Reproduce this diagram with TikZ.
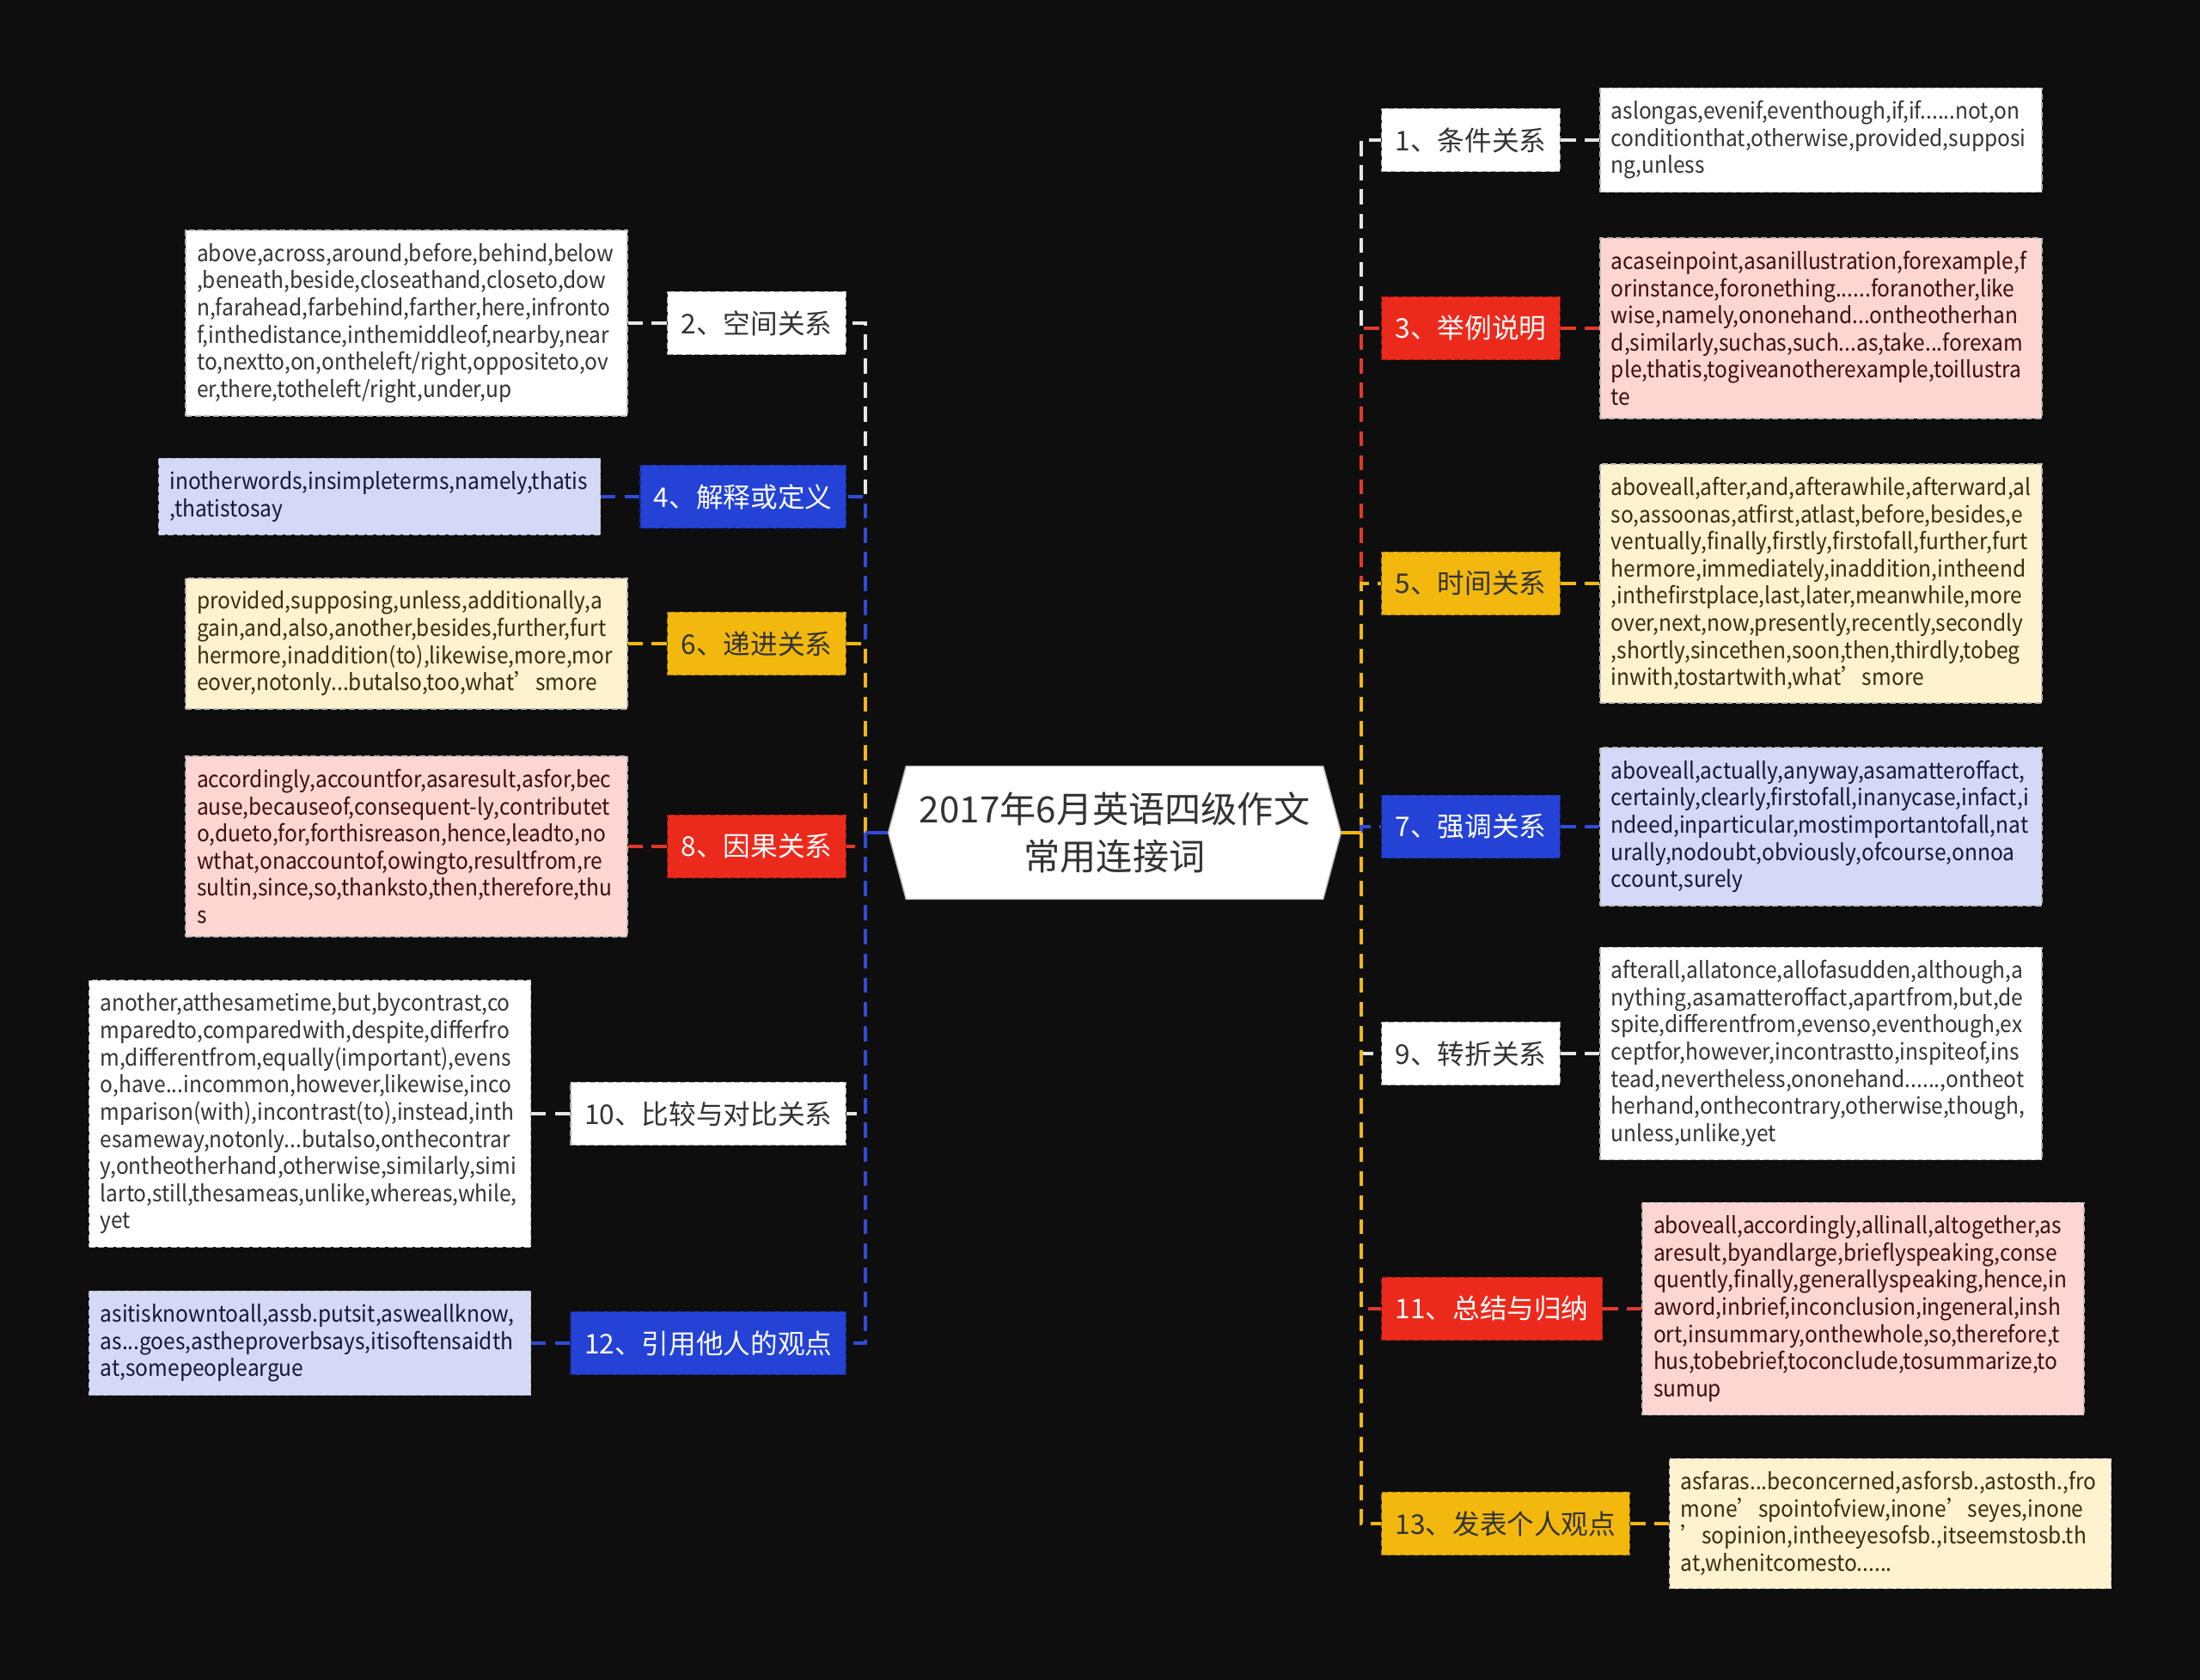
\documentclass[tikz,border=0pt]{standalone}
\usepackage{fontspec}
\setmainfont{Noto Sans CJK SC}
\newfontfamily\leaffont[FakeStretch=0.93]{Noto Sans CJK SC}
\usetikzlibrary{positioning,shapes.symbols}

\definecolor{bgdark}{HTML}{0E0E0E}
\definecolor{txtdark}{HTML}{333333}
% label fills
\definecolor{hwhite}{HTML}{FFFFFF}
\definecolor{hred}{HTML}{EC2A1C}
\definecolor{hyellow}{HTML}{F2B80E}
\definecolor{hblue}{HTML}{2442D6}
% leaf fills
\definecolor{lwhite}{HTML}{FFFFFF}
\definecolor{lred}{HTML}{FDD6D1}
\definecolor{lyellow}{HTML}{FEF2CF}
\definecolor{lblue}{HTML}{D4D9F8}
% leaf texts
\definecolor{twhite}{HTML}{333333}
\definecolor{tred}{HTML}{3D0C0C}
\definecolor{tyellow}{HTML}{3A2C0A}
\definecolor{tblue}{HTML}{14163A}
% connectors
\definecolor{cwhite}{HTML}{E6E6E6}
\definecolor{cred}{HTML}{E0392B}
\definecolor{cyellow}{HTML}{F2B80E}
\definecolor{cblue}{HTML}{2F4BD8}

\tikzset{
	topic/.style={signal, signal to=west and east, signal pointer angle=150,
		fill=white, draw=gray!60, minimum width=5.27cm, minimum height=1.55cm,
		align=center, text=txtdark, font=\fontsize{12}{15.8}\selectfont},
	branch/.style={fill=h#1, draw=h#1!65!black, dash pattern=on 2pt off 1pt,
		line width=0.4pt, minimum height=0.735cm, inner xsep=0.16cm,
		font=\fontsize{9}{11}\selectfont},
	leaf/.style={fill=l#1, text=t#1, draw=gray!55, dash pattern=on 2pt off 1pt,
		line width=0.4pt, text width=4.88cm, inner xsep=0.13cm, inner ysep=4.3pt,
		align=left, font=\leaffont\fontsize{7.5}{9}\selectfont},
	link/.style={line width=0.9pt, dash pattern=on 5pt off 3pt},
}

\begin{document}
\begin{tikzpicture}
	\useasboundingbox[fill=bgdark] (0,0) rectangle (25.6,-19.55);

	\node[topic] (topic) at (12.97,-9.69) {2017年6月英语四级作文\\常用连接词};
	\coordinate (rj) at (15.84,-9.69);
	\coordinate (lj) at (10.07,-9.69);

	% right side
	\node[branch=white, text=txtdark, anchor=west] (b1) at (16.07,-1.63) {1、条件关系};
	\node[leaf=white, right=0.45cm of b1] (l1) {aslongas,evenif,eventhough,if,if......not,on\\conditionthat,otherwise,provided,supposi\\ng,unless};

	\node[branch=red, text=white, anchor=west] (b3) at (16.07,-3.82) {3、举例说明};
	\node[leaf=red, right=0.45cm of b3] (l3) {acaseinpoint,asanillustration,forexample,f\\orinstance,foronething......foranother,like\\wise,namely,ononehand...ontheotherhan\\d,similarly,suchas,such...as,take...forexam\\ple,thatis,togiveanotherexample,toillustra\\te};

	\node[branch=yellow, text=txtdark, anchor=west] (b5) at (16.07,-6.79) {5、时间关系};
	\node[leaf=yellow, right=0.45cm of b5] (l5) {aboveall,after,and,afterawhile,afterward,al\\so,assoonas,atfirst,atlast,before,besides,e\\ventually,finally,firstly,firstofall,further,furt\\hermore,immediately,inaddition,intheend\\,inthefirstplace,last,later,meanwhile,more\\over,next,now,presently,recently,secondly\\,shortly,sincethen,soon,then,thirdly,tobeg\\inwith,tostartwith,what’smore};

	\node[branch=blue, text=white, anchor=west] (b7) at (16.07,-9.62) {7、强调关系};
	\node[leaf=blue, right=0.45cm of b7] (l7) {aboveall,actually,anyway,asamatteroffact,\\certainly,clearly,firstofall,inanycase,infact,i\\ndeed,inparticular,mostimportantofall,nat\\urally,nodoubt,obviously,ofcourse,onnoa\\ccount,surely};

	\node[branch=white, text=txtdark, anchor=west] (b9) at (16.07,-12.26) {9、转折关系};
	\node[leaf=white, right=0.45cm of b9] (l9) {afterall,allatonce,allofasudden,although,a\\nything,asamatteroffact,apartfrom,but,de\\spite,differentfrom,evenso,eventhough,ex\\ceptfor,however,incontrastto,inspiteof,ins\\tead,nevertheless,ononehand......,ontheot\\herhand,onthecontrary,otherwise,though,\\unless,unlike,yet};

	\node[branch=red, text=white, anchor=west] (b11) at (16.07,-15.23) {11、总结与归纳};
	\node[leaf=red, right=0.45cm of b11] (l11) {aboveall,accordingly,allinall,altogether,as\\aresult,byandlarge,brieflyspeaking,conse\\quently,finally,generallyspeaking,hence,in\\aword,inbrief,inconclusion,ingeneral,insh\\ort,insummary,onthewhole,so,therefore,t\\hus,tobebrief,toconclude,tosummarize,to\\sumup};

	\node[branch=yellow, text=txtdark, anchor=west] (b13) at (16.07,-17.73) {13、发表个人观点};
	\node[leaf=yellow, right=0.45cm of b13] (l13) {asfaras...beconcerned,asforsb.,astosth.,fro\\mone’spointofview,inone’seyes,inone\\’sopinion,intheeyesofsb.,itseemstosb.th\\at,whenitcomesto......};

	% left side
	\node[branch=white, text=txtdark, anchor=east] (b2) at (9.85,-3.76) {2、空间关系};
	\node[leaf=white, left=0.45cm of b2] (l2) {above,across,around,before,behind,below\\,beneath,beside,closeathand,closeto,dow\\n,farahead,farbehind,farther,here,infronto\\f,inthedistance,inthemiddleof,nearby,near\\to,nextto,on,ontheleft/right,oppositeto,ov\\er,there,totheleft/right,under,up};

	\node[branch=blue, text=white, anchor=east] (b4) at (9.85,-5.78) {4、解释或定义};
	\node[leaf=blue, left=0.45cm of b4] (l4) {inotherwords,insimpleterms,namely,thatis\\,thatistosay};

	\node[branch=yellow, text=txtdark, anchor=east] (b6) at (9.85,-7.49) {6、递进关系};
	\node[leaf=yellow, left=0.45cm of b6] (l6) {provided,supposing,unless,additionally,a\\gain,and,also,another,besides,further,furt\\hermore,inaddition(to),likewise,more,mor\\eover,notonly...butalso,too,what’smore};

	\node[branch=red, text=white, anchor=east] (b8) at (9.85,-9.85) {8、因果关系};
	\node[leaf=red, left=0.45cm of b8] (l8) {accordingly,accountfor,asaresult,asfor,bec\\ause,becauseof,\mbox{consequent-ly},contributet\\o,dueto,for,forthisreason,hence,leadto,no\\wthat,onaccountof,owingto,resultfrom,re\\sultin,since,so,thanksto,then,therefore,thu\\s};

	\node[branch=white, text=txtdark, anchor=east] (b10) at (9.85,-12.96) {10、比较与对比关系};
	\node[leaf=white, left=0.45cm of b10] (l10) {another,atthesametime,but,bycontrast,co\\mparedto,comparedwith,despite,differfro\\m,differentfrom,equally(important),evens\\o,have...incommon,however,likewise,inco\\mparison(with),incontrast(to),instead,inth\\esameway,notonly...butalso,onthecontrar\\y,ontheotherhand,otherwise,similarly,simi\\larto,still,thesameas,unlike,whereas,while,\\yet};

	\node[branch=blue, text=white, anchor=east] (b12) at (9.85,-15.63) {12、引用他人的观点};
	\node[leaf=blue, left=0.45cm of b12] (l12) {asitisknowntoall,assb.putsit,asweallknow,\\as...goes,astheproverbsays,itisoftensaidth\\at,somepeopleargue};

	% connectors, later branches on top
	\foreach \b/\c in {1/white,3/red,5/yellow,7/blue,9/white,11/red,13/yellow} {
		\draw[link, c\c] (rj) |- (b\b.west);
		\draw[line width=0.9pt, c\c] (topic.east) -- (rj);
		\draw[link, c\c] (b\b.east) -- (l\b.west);
	}
	\foreach \b/\c in {2/white,4/blue,6/yellow,8/red,10/white,12/blue} {
		\draw[link, c\c] (lj) |- (b\b.east);
		\draw[line width=0.9pt, c\c] (topic.west) -- (lj);
		\draw[link, c\c] (b\b.west) -- (l\b.east);
	}
\end{tikzpicture}
\end{document}
